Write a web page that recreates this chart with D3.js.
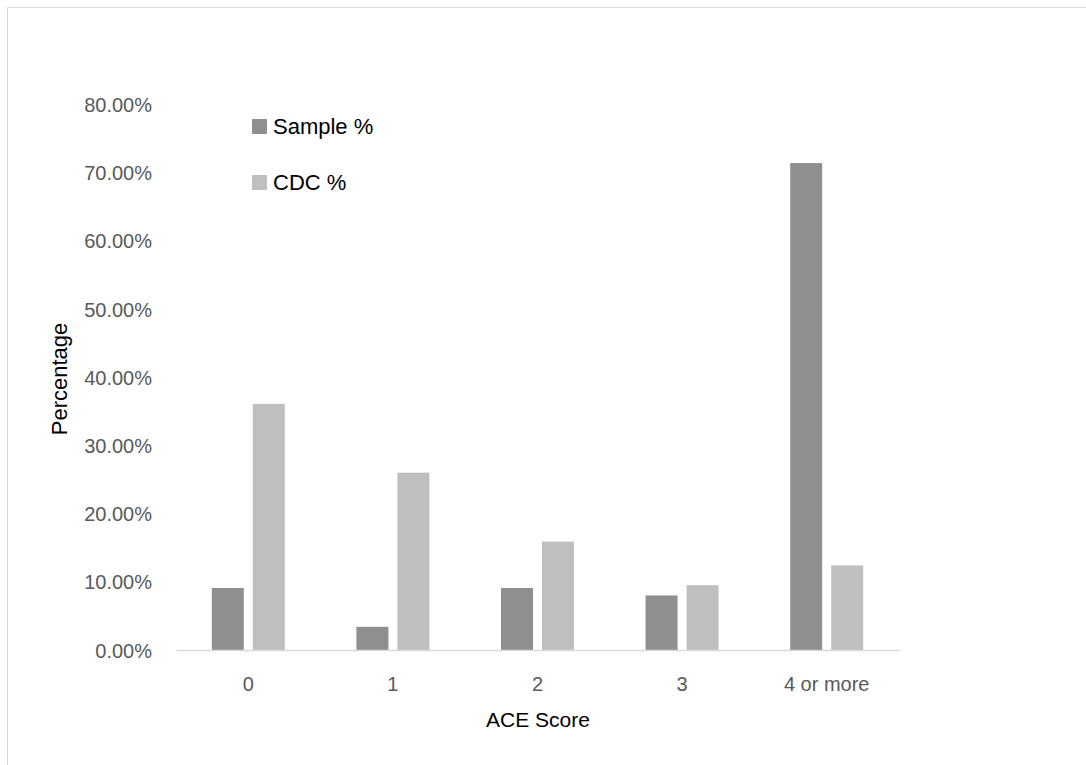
<!DOCTYPE html>
<html><head><meta charset="utf-8">
<script src="https://cdn.jsdelivr.net/npm/d3@7"></script>
<style>body{margin:0;background:#fff}svg{display:block}</style>
</head><body>
<svg id="chart" width="1086" height="765"></svg>
<script>
const categories = ["0", "1", "2", "3", "4 or more"];
const seriesNames = ["Sample %", "CDC %"];
const sampleValues = [0.091, 0.034, 0.091, 0.080, 0.714];
const cdcValues = [0.361, 0.260, 0.159, 0.095, 0.124];
const yTicks = [0, 0.1, 0.2, 0.3, 0.4, 0.5, 0.6, 0.7, 0.8];
const colors = ["#8f8f8f", "#bfbfbf"];

const svg = d3.select("#chart");
const font = "'Liberation Sans', Arial, sans-serif";

// outer border
svg.append("rect").attr("x", 7.5).attr("y", 7.5).attr("width", 1200).attr("height", 1000)
  .attr("fill", "none").attr("stroke", "#d9d9d9").attr("stroke-width", 1);

const x0 = d3.scaleBand().domain(categories).range([176, 899]).paddingInner(0).paddingOuter(0);
const y = d3.scaleLinear().domain([0, 0.8]).range([650, 104.4]);
const barW = 32, gap = 9;

// y tick labels
const yAxis = d3.axisLeft(y).tickValues(yTicks).tickFormat(d3.format(".2%")).tickSize(0).tickPadding(0);
const ya = svg.append("g").attr("transform", "translate(152,0)").call(yAxis);
ya.select(".domain").remove();
ya.selectAll("text").attr("font-family", font).attr("font-size", 20).attr("fill", "#595959").attr("dy", "0.35em");

// bars
const data = categories.map((c, i) => ({c, vals: [sampleValues[i], cdcValues[i]]}));
const g = svg.append("g");
data.forEach(d => {
  const cx = x0(d.c) + x0.bandwidth() / 2;
  d.vals.forEach((v, j) => {
    const xs = j === 0 ? cx - gap / 2 - barW : cx + gap / 2;
    g.append("rect").attr("x", xs).attr("y", y(v)).attr("width", barW).attr("height", y(0) - y(v))
      .attr("fill", colors[j]);
  });
});

// x axis
const xAxis = d3.axisBottom(x0).tickSize(0).tickPadding(0);
const xa = svg.append("g").attr("transform", "translate(0,650)").call(xAxis);
xa.select(".domain").attr("stroke", "#d9d9d9").attr("stroke-width", 1.5);
xa.selectAll("text").attr("font-family", font).attr("font-size", 20).attr("fill", "#595959")
  .attr("y", 34).attr("dy", "0.35em");

// axis titles
svg.append("text").attr("x", 538).attr("y", 727).attr("text-anchor", "middle")
  .attr("font-family", font).attr("font-size", 21).attr("fill", "#000").text("ACE Score");
svg.append("text").attr("transform", "translate(67,379) rotate(-90)").attr("text-anchor", "middle")
  .attr("font-family", font).attr("font-size", 22).attr("fill", "#000").text("Percentage");

// legend
const lg = svg.append("g");
seriesNames.forEach((n, i) => {
  lg.append("rect").attr("x", 252).attr("y", 119 + i * 56).attr("width", 15).attr("height", 15).attr("fill", colors[i]);
  lg.append("text").attr("x", 273).attr("y", 134 + i * 56).attr("font-family", font).attr("font-size", 22)
    .attr("fill", "#000").text(n);
});
</script>
</body></html>
